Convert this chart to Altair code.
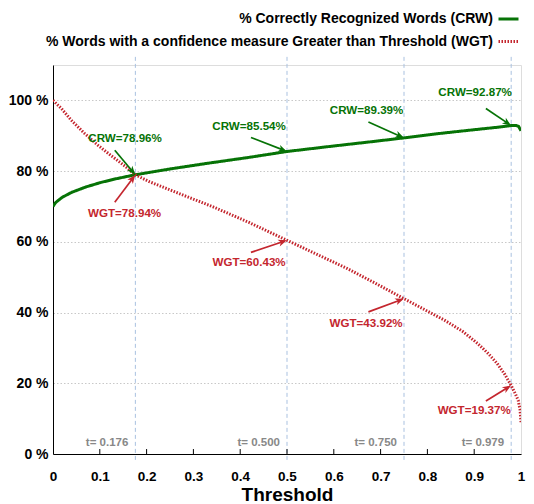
import math
import altair as alt
import pandas as pd

# ---------------- data ----------------
crw_t = [0.0, 0.005, 0.01, 0.02, 0.04, 0.07, 0.10, 0.13, 0.176, 0.25, 0.33, 0.42,
         0.50, 0.60, 0.68, 0.75, 0.83, 0.90, 0.95, 0.979, 0.99, 0.995, 1.0]
crw_v = [70.0, 71.0, 71.6, 72.6, 74.0, 75.5, 76.7, 77.7, 78.96, 80.6, 82.2, 83.9,
         85.54, 87.1, 88.3, 89.39, 90.7, 91.7, 92.4, 92.87, 92.9, 92.6, 91.4]

wgt_t = [0.0, 0.01, 0.018, 0.039, 0.067, 0.095, 0.123, 0.151, 0.176, 0.206, 0.28,
         0.342, 0.42, 0.50, 0.56, 0.628, 0.69, 0.75, 0.80, 0.837, 0.875, 0.907,
         0.93, 0.949, 0.965, 0.979, 0.988, 0.994, 0.998, 1.0]
wgt_v = [100.0, 98.7, 97.7, 94.4, 90.7, 87.4, 84.5, 81.7, 78.94, 77.0, 73.1,
         69.9, 65.4, 60.43, 56.7, 52.5, 48.2, 43.92, 40.4, 37.8, 34.7, 31.3,
         28.4, 25.6, 22.6, 19.37, 17.0, 15.2, 12.5, 9.0]

series_names = ["% Correctly Recognized Words (CRW)",
                "% Words with a confidence measure Greater than Threshold (WGT)"]
series_colors = ["#067306", "#c4262e"]

marker_t = [0.176, 0.5, 0.75, 0.979]
marker_text = ["t= 0.176", "t= 0.500", "t= 0.750", "t= 0.979"]
crw_at = [78.96, 85.54, 89.39, 92.87]
wgt_at = [78.94, 60.43, 43.92, 19.37]

# annotation placement (tail of arrow, text centre), data units
crw_tail_t = [0.132, 0.423, 0.674, 0.925]
crw_tail_v = [85.9, 89.5, 93.9, 97.7]
crw_text_t = [0.154, 0.419, 0.670, 0.902]
crw_text_v = [89.0, 92.5, 97.0, 102.0]
wgt_tail_t = [0.132, 0.423, 0.674, 0.925]
wgt_tail_v = [71.2, 57.0, 40.2, 15.0]
wgt_text_t = [0.153, 0.419, 0.669, 0.900]
wgt_text_v = [67.8, 54.1, 36.9, 12.2]

x_ticks = [0, 0.1, 0.2, 0.3, 0.4, 0.5, 0.6, 0.7, 0.8, 0.9, 1]
y_ticks = [0, 20, 40, 60, 80, 100]

# ---------------- layout ----------------
W, H = 468, 389
YMAX = 110
FONT = "Liberation Sans"
kx = W / 1.0
ky = H / YMAX

lines_df = pd.DataFrame(
    [{"t": t, "v": v, "s": series_names[0], "o": 0} for t, v in zip(crw_t, crw_v)] +
    [{"t": t, "v": v, "s": series_names[1], "o": 1} for t, v in zip(wgt_t, wgt_v)]
)

ann_rows = []
for i in range(4):
    for name, at, tt, tv, xt, xv, col in [
        ("CRW", crw_at[i], crw_tail_t[i], crw_tail_v[i], crw_text_t[i], crw_text_v[i], series_colors[0]),
        ("WGT", wgt_at[i], wgt_tail_t[i], wgt_tail_v[i], wgt_text_t[i], wgt_text_v[i], series_colors[1]),
    ]:
        ht, hv = marker_t[i], at
        dx = (ht - tt) * kx
        dy = (hv - tv) * ky
        L = math.hypot(dx, dy)
        ux, uy = dx / L, dy / L
        back = 4.5
        ann_rows.append({
            "label": f"{name}={at:.2f}%",
            "col": col,
            "tt": tt, "tv": tv,
            "et": ht - ux * 3.0 / kx, "ev": hv - uy * 3.0 / ky,
            "pt": ht - ux * back / kx, "pv": hv - uy * back / ky,
            "ang": math.degrees(math.atan2(dx, dy)) % 360,
            "xt": xt, "xv": xv,
        })
ann_df = pd.DataFrame(ann_rows)

mark_df = pd.DataFrame({"t": marker_t, "txt": marker_text})
tick_df = pd.DataFrame({"t": x_ticks[1:-1]})

xscale = alt.Scale(domain=[0, 1], nice=False, zero=False)
yscale = alt.Scale(domain=[0, YMAX], nice=False)

X = alt.X("t:Q", scale=xscale,
          axis=alt.Axis(values=x_ticks, format="~g", title="Threshold", grid=False,
                        tickSize=0, labelPadding=15, labelFontSize=13.5, labelFontWeight="bold",
                        titleFontSize=19, titleFontWeight="bold", titlePadding=3,
                        labelFont=FONT, titleFont=FONT, labelColor="black", titleColor="black",
                        domainColor="black", labelFlush=False))
Y = alt.Y("v:Q", scale=yscale,
          axis=alt.Axis(values=y_ticks, labelExpr="datum.value + ' %'", title=None,
                        grid=True, gridColor="#c8c8c8", gridDash=[1.5, 2], gridWidth=1,
                        tickSize=0, labelPadding=5, labelFontSize=14, labelFontWeight="bold",
                        labelFont=FONT, labelColor="black", domainColor="black"))

legend = alt.Legend(title=None, orient="none", legendX=444, legendY=-57.5,
                    direction="vertical", symbolType="stroke", symbolSize=400,
                    symbolStrokeWidth=3, labelAlign="right", labelOffset={"expr": "-27"},
                    labelFont=FONT, labelFontSize=14, labelFontWeight="bold",
                    labelColor="black", labelLimit=600, rowPadding=3.5, padding=0)

vlines = alt.Chart(mark_df).mark_rule(color="#a9c1e0", strokeDash=[4, 3], strokeWidth=1).encode(
    x=alt.X("t:Q", scale=xscale), y=alt.datum(112.3), y2=alt.datum(-1.8))

vtext = alt.Chart(mark_df).mark_text(align="right", baseline="middle", dx=-7, font=FONT,
                                     fontSize=11.5, fontWeight="bold", color="#888888").encode(
    x=alt.X("t:Q", scale=xscale), y=alt.datum(3.0), text="txt:N")

ticks = alt.Chart(tick_df).mark_rule(color="black", strokeWidth=1).encode(
    x=alt.X("t:Q", scale=xscale), y=alt.datum(0), y2=alt.datum(1.4))

curves = alt.Chart(lines_df).mark_line(strokeWidth=3, clip=True).encode(
    x=X, y=Y,
    color=alt.Color("s:N", scale=alt.Scale(domain=series_names, range=series_colors), legend=legend),
    strokeDash=alt.StrokeDash("s:N", scale=alt.Scale(domain=series_names, range=[[1, 0], [1.5, 1.5]]),
                              legend=legend),
    order="o:Q",
)

arrows = alt.Chart(ann_df).mark_rule(strokeWidth=1.7).encode(
    x=alt.X("tt:Q", scale=xscale), y=alt.Y("tv:Q", scale=yscale),
    x2="et:Q", y2="ev:Q", color=alt.Color("col:N", scale=None))

heads = alt.Chart(ann_df).mark_point(shape="M-0.8,1L0,-1L0.8,1L0,0.45Z", filled=True,
                                     size=75, opacity=1, strokeWidth=0).encode(
    x=alt.X("pt:Q", scale=xscale), y=alt.Y("pv:Q", scale=yscale),
    angle=alt.Angle("ang:Q", scale=None), color=alt.Color("col:N", scale=None))

labels = alt.Chart(ann_df).mark_text(font=FONT, fontSize=11.6, fontWeight="bold",
                                     baseline="middle", align="center").encode(
    x=alt.X("xt:Q", scale=xscale), y=alt.Y("xv:Q", scale=yscale),
    text="label:N", color=alt.Color("col:N", scale=None))

chart = alt.layer(vlines, vtext, ticks, curves, arrows, heads, labels).properties(
    width=W, height=H,
    autosize=alt.AutoSizeParams(type="none"),
    padding={"left": 45, "top": 57, "right": 5, "bottom": 50},
).configure_view(stroke="black", strokeWidth=1).configure(background="white")

chart.save("out.html", embed_options={"renderer": "svg", "actions": False})
